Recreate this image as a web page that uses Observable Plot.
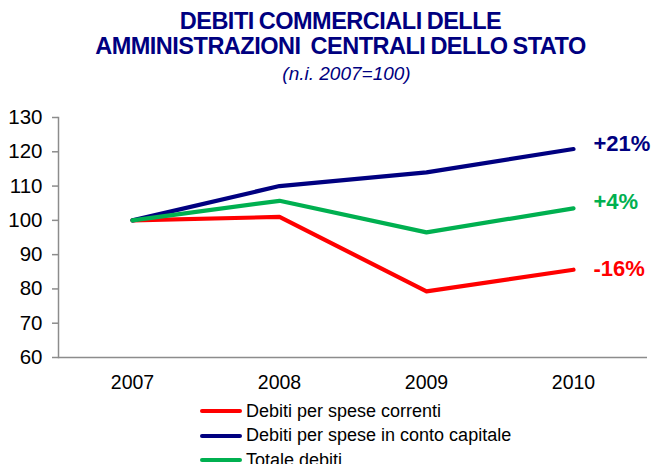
<!DOCTYPE html>
<html><head><meta charset="utf-8">
<script src="https://cdn.jsdelivr.net/npm/d3@7"></script>
<script src="https://cdn.jsdelivr.net/npm/@observablehq/plot@0.6"></script>
<style>
body{margin:0;background:#fff;font-family:"Liberation Sans",Arial,sans-serif;width:651px;height:464px;overflow:hidden}
#title{position:absolute;left:30px;width:621px;top:9px;text-align:center;color:#000080;font-weight:bold;font-size:23.5px;line-height:25px;letter-spacing:-0.5px;word-spacing:-1px}
#sub{position:absolute;left:36px;width:621px;top:63px;text-align:center;color:#000080;font-style:italic;font-size:19px}
#chart{position:absolute;left:0;top:95px}
#legend{position:absolute;left:200px;top:399px;font-size:18px;color:#000}
.row{height:24.5px;display:flex;align-items:center}
.sw{width:42px;height:4px;margin-right:4px;border-radius:2px}
</style></head><body>
<div id="title">DEBITI COMMERCIALI DELLE<br>AMMINISTRAZIONI&nbsp; CENTRALI DELLO STATO</div>
<div id="sub">(n.i. 2007=100)</div>
<div id="chart"></div>
<div id="legend"></div>
<script>
const years = ["2007", "2008", "2009", "2010"];
const seriesNames = ["Debiti per spese correnti", "Debiti per spese in conto capitale", "Totale debiti"];
const correnti = [100, 101, 79.3, 85.6];
const capitale = [100, 110, 114, 120.8];
const totale = [100, 105.7, 96.5, 103.5];
const endLabels = ["-16%", "+21%", "+4%"];
const colors = ["#ff0000", "#000080", "#00b050"];
const yTicks = [60, 70, 80, 90, 100, 110, 120, 130];

const valuesBySeries = [correnti, capitale, totale];
const data = [];
seriesNames.forEach((s, i) => years.forEach((y, j) => data.push({series: s, year: y, value: valuesBySeries[i][j]})));
const labelData = seriesNames.map((s, i) => ({series: s, year: years[years.length - 1], value: valuesBySeries[i][years.length - 1], label: endLabels[i], color: colors[i]}));
const labelDy = [-1, -5, -6];

const chart = Plot.plot({
  width: 651,
  height: 300,
  marginTop: 22,
  marginBottom: 38,
  marginLeft: 58,
  marginRight: 4,
  style: {fontFamily: "Liberation Sans, Arial, sans-serif", overflow: "visible"},
  x: {type: "point", domain: years, padding: 0.5, label: null},
  y: {domain: [60, 130], label: null},
  color: {domain: seriesNames, range: colors},
  marks: [
    Plot.ruleY([60], {stroke: "#8c8c8c", strokeWidth: 1.5}),
    Plot.frame({anchor: "left", stroke: "#8c8c8c", strokeWidth: 1.5}),
    Plot.axisY(yTicks, {tickSize: 6, tickPadding: 10, fontSize: 20.5, fill: "#000", stroke: "#8c8c8c", strokeWidth: 1.5, label: null}),
    Plot.axisX(years, {tickSize: 0, tickPadding: 18, fontSize: 19.5, fill: "#000", label: null}),
    Plot.lineY(data, {x: "year", y: "value", stroke: "series", strokeWidth: 4.2, z: "series"}),
    ...labelData.map((d, i) => Plot.text([d], {x: "year", y: "value", text: "label", fill: d.color, textAnchor: "start", dx: 20, dy: labelDy[i], fontSize: 22, fontWeight: "bold"}))
  ]
});
document.getElementById("chart").appendChild(chart);

const legend = document.getElementById("legend");
seriesNames.forEach((s, i) => {
  const r = document.createElement("div"); r.className = "row";
  const sw = document.createElement("div"); sw.className = "sw"; sw.style.background = colors[i];
  const t = document.createElement("span"); t.textContent = s;
  r.appendChild(sw); r.appendChild(t); legend.appendChild(r);
});
</script>
</body></html>
